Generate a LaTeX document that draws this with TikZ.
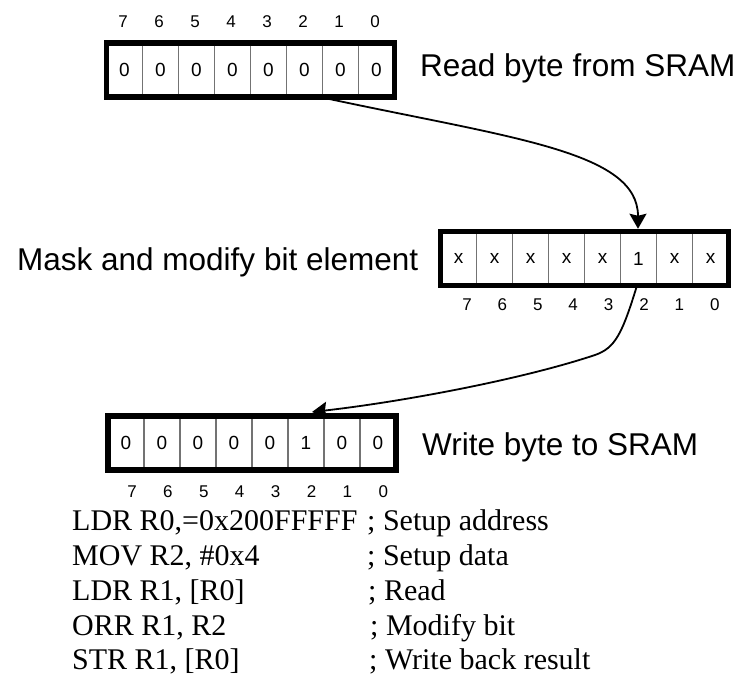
\documentclass[tikz,border=0pt]{standalone}
\usepackage{fontspec}
\setmainfont{Liberation Serif}
\setsansfont{Liberation Sans}
\usetikzlibrary{arrows.meta}
\begin{document}
\begin{tikzpicture}[x=1pt,y=-1pt,
  reg/.style={draw, line width=5.5pt, minimum width=288pt, minimum height=54pt, inner sep=0pt, outer sep=0pt},
  divider/.style={draw=black!55, line width=1.4pt, shorten <=2.75pt, shorten >=2.75pt},
  cellval/.style={font=\sffamily\fontsize{19}{19}\selectfont, inner sep=0pt},
  bitnum/.style={font=\sffamily\fontsize{17}{17}\selectfont, inner sep=0pt},
  caption/.style={font=\sffamily\fontsize{31.5}{36}\selectfont, inner sep=0pt, anchor=base west},
  code/.style={font=\fontsize{30}{34}\selectfont, inner sep=0pt, anchor=base west},
  flow/.style={line width=1.8pt, -{Stealth[length=15pt,width=17pt,inset=2pt]}}
]
\useasboundingbox (0,0) rectangle (744,677);

% --- byte read from SRAM ---
\node[reg] (rdbyte) at (250.5,70) {};
\foreach \k in {1,...,7}
  \draw[divider] ([xshift=\k*36pt]rdbyte.north west) -- ([xshift=\k*36pt]rdbyte.south west);
\foreach \v [count=\i] in {0,0,0,0,0,0,0,0}
  \node[cellval] (rdcell\i) at ([xshift=(\i-0.5)*36pt]rdbyte.west) {\v};
\foreach \b [count=\i from 0] in {7,6,...,0}
  \node[bitnum] (rdbit\b) at (123+36*\i,22) {\b};
\node[caption] (rdtext) at (420,77) {Read byte from SRAM};

% --- masked / modified byte ---
\node[reg] (mask) at (584.5,258.5) {};
\foreach \k in {1,...,7}
  \draw[divider] ([xshift=\k*36pt]mask.north west) -- ([xshift=\k*36pt]mask.south west);
\foreach \v [count=\i] in {x,x,x,x,x,1,x,x}
  \node[cellval] (mkcell\i) at ([xshift=(\i-0.5)*36pt]mask.west) {\v};
\foreach \b [count=\i from 0] in {7,6,...,0}
  \node[bitnum] (mkbit\b) at (467+35.4*\i,305) {\b};
\node[caption] (mktext) at (17,270) {Mask and modify bit element};

% --- byte written back ---
\node[reg] (wrbyte) at (252,443) {};
\foreach \k in {1,...,7}
  \draw[divider] ([xshift=\k*36pt]wrbyte.north west) -- ([xshift=\k*36pt]wrbyte.south west);
\foreach \v [count=\i] in {0,0,0,0,0,1,0,0}
  \node[cellval] (wrcell\i) at ([xshift=(\i-0.5)*36pt]wrbyte.west) {\v};
\foreach \b [count=\i from 0] in {7,6,...,0}
  \node[bitnum] (wrbit\b) at (132+35.9*\i,492) {\b};
\node[caption] (wrtext) at (422,455) {Write byte to SRAM};

% --- data flow ---
\draw[flow] ([xshift=213.5pt]rdbyte.south west)
  .. controls +(190,41) and +(0,-78) .. ([xshift=197.5pt,yshift=2.75pt]mask.north west);
\coordinate (bend) at (595,355);
\draw[flow] ([xshift=196.5pt]mask.south west)
  .. controls +(-15,49) and +(20,-7) .. (bend)
  .. controls +(-75,25) and +(88,-10) .. ([xshift=204pt,yshift=4pt]wrbyte.north west);

% --- assembly listing ---
\node[code] (c1) at (72,530) {LDR R0,=0x200FFFFF};
\node[code] (c2) at (72,565) {MOV R2, \#0x4};
\node[code] (c3) at (72,600) {LDR R1, [R0]};
\node[code] (c4) at (72,635) {ORR R1, R2};
\node[code] (c5) at (72,669) {STR R1, [R0]};
\node[code] (k1) at (367,530) {; Setup address};
\node[code] (k2) at (367,565) {; Setup data};
\node[code] (k3) at (368,600) {; Read};
\node[code] (k4) at (370,635) {; Modify bit};
\node[code] (k5) at (369,669) {; Write back result};
\end{tikzpicture}
\end{document}
